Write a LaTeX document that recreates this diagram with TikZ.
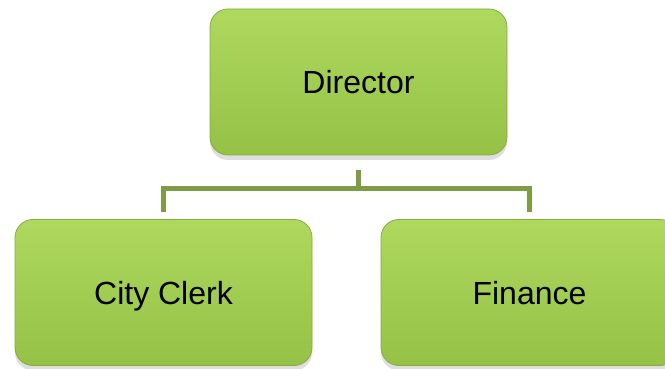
\documentclass[tikz,border=0pt]{standalone}
\usepackage{fontspec}
\setmainfont{Liberation Sans}
\usepackage{tikz}
\usetikzlibrary{positioning, shadows}

\definecolor{boxtop}{HTML}{AED95E}
\definecolor{boxbot}{HTML}{94C146}
\definecolor{boxline}{HTML}{86AD3E}
\definecolor{linkgreen}{HTML}{7E9C46}

\tikzset{
  unit/.style={rectangle, rounded corners=18pt, draw=boxline, line width=0.8pt,
    top color=boxtop, bottom color=boxbot, minimum width=297pt, minimum height=146pt,
    font=\fontsize{32}{38}\selectfont, text=black, text height=23pt, text depth=0pt,
    drop shadow={shadow xshift=0pt, shadow yshift=-5pt, fill=black!25, opacity=0.5}},
  link/.style={draw=linkgreen, line width=5pt}
}

\begin{document}
\begin{tikzpicture}[x=1pt, y=-1pt]
  \clip (0,0) rectangle (665,369);
  \useasboundingbox (0,0) rectangle (665,369);
  \fill[white] (0,0) rectangle (665,369);

  \node[unit] (director) at (358.5, 82) {Director};
  \node[unit] (clerk) at (163.5, 292.5) {City Clerk};
  \node[unit] (finance) at (529.5, 292.5) {Finance};

  \coordinate (bus) at (358.5, 188);
  \draw[link, shorten <=15pt] (director.south) -- (bus);
  \draw[link, shorten >=7pt] (bus) -| (clerk.north);
  \draw[link, shorten >=7pt] (bus) -| (finance.north);
\end{tikzpicture}
\end{document}
